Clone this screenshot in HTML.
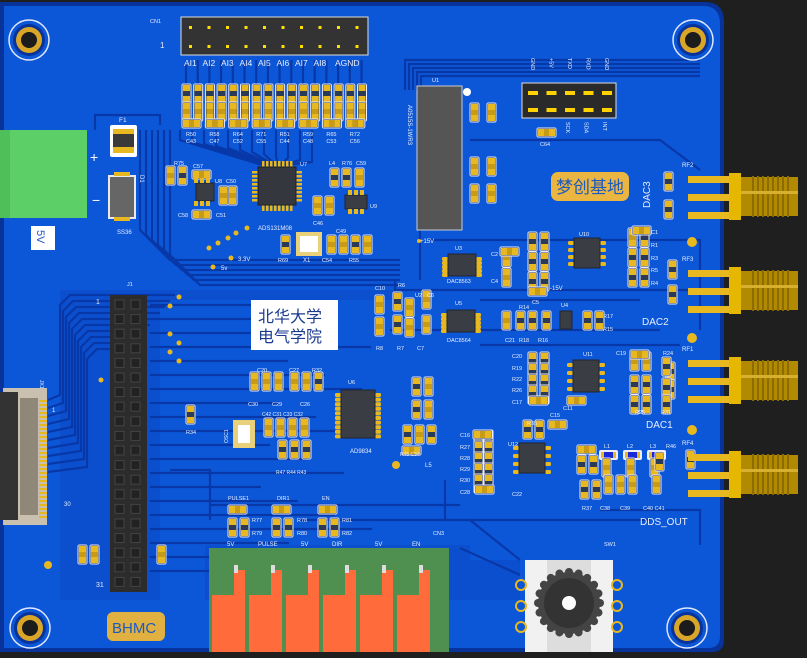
<!DOCTYPE html>
<html><head><meta charset="utf-8">
<style>
html,body{margin:0;padding:0;background:#1f1f1f;}
svg{display:block;}
text{font-family:"Liberation Sans",sans-serif;}
</style></head>
<body>
<svg id="s" width="807" height="658" viewBox="0 0 807 658" xmlns="http://www.w3.org/2000/svg">
<rect x="0" y="0" width="807" height="658" fill="#1f1f1f"/>
<path d="M0 2 H705 Q724 2 724 22 V640 Q724 652 712 652 H0 Z" fill="#07339a"/>
<path d="M4 6 H703 Q720 6 720 24 V636 Q720 648 708 648 H4 Z" fill="#0c57d8"/>
<path d="M60 290 H400 V300 H160 V600 H205 V545 H470 V560 H520 V600 H60 Z" fill="#0a47c4" opacity="0.45"/>
<g id="traces" stroke="#0838a8" stroke-width="2.2" fill="none"></g>
<g id="comp"></g>
<g id="big"></g>
<g id="lab"></g>
</svg>
<script>
const NS="http://www.w3.org/2000/svg";
const T=document.getElementById('traces'),C=document.getElementById('comp'),B=document.getElementById('big'),LB=document.getElementById('lab');
function el(p,tag,a,txt){const e=document.createElementNS(NS,tag);for(const k in a)e.setAttribute(k,a[k]);if(txt!==undefined)e.textContent=txt;p.appendChild(e);return e;}
function r(p,x,y,w,h,f,ex){const a={x,y,width:w,height:h,fill:f};Object.assign(a,ex||{});return el(p,'rect',a);}
function t(x,y,s,sz,col,ex){const a={x,y,'font-size':sz||6,fill:col||'#e8eefc'};Object.assign(a,ex||{});return el(LB,'text',a,s);}
function v(x,y,cap){r(C,x-0.5,y-0.5,10,20,'#eef',{rx:2});r(C,x+0.5,y+0.5,8,18,'#2b3a55');r(C,x+1,y+1,7,6,'#e8b820');r(C,x+1,y+12,7,6,'#e8b820');if(cap)r(C,x+1,y+7,7,5,'#c79a18');}
function h(x,y,cap){r(C,x-0.5,y-0.5,20,10,'#eef',{rx:2});r(C,x+0.5,y+0.5,18,8,'#2b3a55');r(C,x+1,y+1,6,7,'#e8b820');r(C,x+12,y+1,6,7,'#e8b820');if(cap)r(C,x+7,y+1,5,7,'#c79a18');}
function soic(x,y,w,hh,n,sp){for(let i=0;i<n;i++){r(C,x-6,y+3+i*sp,6,4,'#e8b820',{rx:1.5});r(C,x+w,y+3+i*sp,6,4,'#e8b820',{rx:1.5});}r(C,x,y,w,hh,'#3a3d44',{stroke:'#22252b'});}
function qfp(x,y,s,n){const sp=(s-6)/n;for(let i=0;i<n;i++){r(C,x+4+i*sp,y-6,2.5,6,'#e8b820');r(C,x+4+i*sp,y+s,2.5,6,'#e8b820');r(C,x-6,y+4+i*sp,6,2.5,'#e8b820');r(C,x+s,y+4+i*sp,6,2.5,'#e8b820');}r(C,x,y,s,s,'#34373d',{stroke:'#222'});}
function via(x,y,rr){el(C,'circle',{cx:x,cy:y,r:rr||2.5,fill:'#e8b820'});}
function hole(x,y){el(B,'circle',{cx:x,cy:y,r:20,fill:'none',stroke:'#dfe8ff','stroke-width':1.5});el(B,'circle',{cx:x,cy:y,r:16,fill:'#07339a'});el(B,'circle',{cx:x,cy:y,r:13,fill:'#d9a628'});el(B,'circle',{cx:x,cy:y,r:8,fill:'#1c1c1c'});}
function L(pts){el(T,'polyline',{points:pts});}
for(let i=0;i<16;i++){const x=186+i*11.7;L(`${x},60 ${x},85`);}
for(let i=0;i<12;i++){L(`${180+i*12},130 ${180+i*12},${140+i*2} ${262+i*2},165`);}
for(let i=0;i<10;i++){L(`${175-i*5},${295+i*6} ${70+i*3},${295+i*6} ${60+i*3},${305+i*6} ${60+i*3},${395+i*8} ${48},${400+i*8}`);}
for(let i=0;i<20;i++){L(`150,${305+i*14} ${260+((i*37)%120)},${305+i*14}`);}
for(let i=0;i<6;i++){L(`${140+i*6},130 ${140+i*6},${230+i*5} ${170+i*6},${260+i*5} ${400},${260+i*5}`);}
for(let i=0;i<5;i++){L(`${405+i*4},90 ${405+i*4},${60+i*4} ${700},${60+i*4}`);}
L("395,280 395,290 700,290");L("430,240 700,240 700,330");L("470,140 560,140 660,140 700,170");
L("390,330 560,330 660,330");L("300,520 470,520 520,560");L("460,548 520,575");L("600,510 700,510 700,545");
L("445,480 445,520 650,520");L("210,505 460,505");L("420,200 420,280");L("480,300 640,300");L("480,345 680,345");
L("170,470 210,470 210,520");L("95,130 95,115 160,115 160,125");

r(B,181,17,187,38,'#333','');r(B,181,17,187,38,'none',{stroke:'#ddd','stroke-width':1});
for(let i=0;i<10;i++){r(B,189+i*18.5,26,3,3,'#ffe100');r(B,189+i*18.5,45,3,3,'#ffe100');}
t(150,23,'CN1',5.5);t(160,48,'1',8);
const ai=['AI1','AI2','AI3','AI4','AI5','AI6','AI7','AI8'];
ai.forEach((s,i)=>t(184+i*18.5,66,s,8.5));t(335,66,'AGND',8.5);
for(let i=0;i<16;i++){const x=182+i*11.7;v(x,84,false);v(x,102,true);}
for(let i=0;i<8;i++){h(182+i*23.4,119,true);}
const rl=['R50','R58','R64','R71','R51','R59','R65','R72'],cl=['C43','C47','C52','C55','C44','C48','C53','C56'];
rl.forEach((s,i)=>{t(186+i*23.4,136,s,5.5);t(186+i*23.4,143,cl[i],5.5);});
hole(29,40);hole(693,40);hole(30,628);hole(687,628);
r(B,0,130,87,88,'#5ccf66');r(B,0,130,10,88,'#4fbf5a');
t(90,162,'+',14,'#fff');t(92,205,'−',14,'#fff');
t(119,122,'F1',6.5);r(B,110,125,27,32,'#fff',{rx:2});r(B,113,129,21,6,'#e8b820');r(B,113,147,21,6,'#e8b820');r(B,113,134,21,13,'#3a3a3a');
r(B,108,175,28,44,'#e9e9e9');r(B,110,177,24,40,'#666');r(B,114,172,16,4,'#e8b820');r(B,114,217,16,4,'#e8b820');
t(117,234,'SS36',6);t(140,175,'D1',6,null,{transform:'rotate(90 140 175)'});
r(B,31,226,24,24,'#fff');t(37,230,'5V',11,'#1a56c8',{transform:'rotate(90 37 230)'});
v(166,166,true);v(178,166,false);h(192,170,true);soic(196,183,18,18,0,0);
for(let i=0;i<3;i++){r(C,194+i*6,178,4,5,'#e8b820');r(C,194+i*6,201,4,5,'#e8b820');}
h(192,210,true);v(219,186,true);v(228,186,true);
t(174,165,'R75',5.5);t(193,168,'C57',5.5);t(215,183,'U8',5.5);t(226,183,'C50',5.5);t(216,217,'C51',5.5);t(178,217,'C58',5.5);
qfp(258,167,38,8);t(258,230,'ADS131M08',6);t(300,166,'U7',5.5);
v(330,168,false);v(342,168,false);v(355,168,true);t(329,165,'L4',5.5);t(342,165,'R76',5.5);t(356,165,'C59',5.5);
soic(345,195,22,14,0,0);for(let i=0;i<3;i++){r(C,348+i*6,190,4,5,'#e8b820');r(C,348+i*6,209,4,5,'#e8b820');}t(370,208,'U9',5.5);
v(313,196,true);v(325,196,true);t(313,225,'C46',5.5);
v(281,235,false);r(C,296,232,26,24,'#e8d17a');r(C,300,236,18,16,'#fff');t(303,262,'X1',6);t(278,262,'R69',5.5);
v(327,235,true);v(339,235,true);v(351,235,false);v(363,235,true);t(322,262,'C54',5.5);t(349,262,'R55',5.5);t(336,233,'C49',5.5);
via(247,228);via(236,233);via(228,238);via(218,243);via(209,248);via(231,258);via(213,267);
t(238,261,'3.3V',6);t(221,270,'5v',6);
r(B,417,86,45,144,'#555',{stroke:'#ccc'});el(B,'circle',{cx:467,cy:92,r:4,fill:'#fff'});t(432,82,'U1',5.5);
t(408,105,'A0515S-1WR3',6,null,{transform:'rotate(90 408 105)'});
v(470,103,true);v(487,103,true);v(470,157,true);v(487,157,true);v(470,184,true);v(487,184,true);
t(420,243,'+15V',6);via(419,241,2);
r(B,522,83,94,35,'#2a2a2a',{stroke:'#ddd'});
for(let i=0;i<5;i++){r(B,528+i*18.5,91,10,4,'#ffd200');r(B,528+i*18.5,108,10,4,'#ffd200');}
['GND','+5V','TXD','RXD','GND'].forEach((s,i)=>t(531+i*18.5,58,s,5.5,null,{transform:`rotate(90 ${531+i*18.5} 58)`}));
['SCK','SDA','INT'].forEach((s,i)=>t(566+i*18.5,122,s,5.5,null,{transform:`rotate(90 ${566+i*18.5} 122)`}));
h(537,128,true);t(540,146,'C64',5.5);
r(B,551,172,78,29,'#eab540',{rx:7});el(LB,'text',{x:556,y:193,'font-size':17,fill:'#1d5ac0','font-family':'"Liberation Sans","Noto Sans CJK SC",sans-serif'},'梦创基地');
function sma(y0,label){
 for(let k=0;k<3;k++)r(B,688,y0+3+k*18,52,7,'#e8b820');
 r(B,729,y0,12,47,'#e5b700');r(B,741,y0+4,57,39,'#b28a00');
 for(let k=0;k<8;k++)r(B,752+k*5,y0+3,2,41,'#8c6c00');
 r(B,741,y0+18,57,3,'#d8b030');
 t(682,y0-6,label,6);
}
sma(173,'RF2');sma(267,'RF3');sma(357,'RF1');sma(451,'RF4');
via(692,242,5);via(692,338,5);via(692,430,5);
t(639,197,'DAC3',10,null,{transform:'rotate(-90 650 197)'});t(642,325,'DAC2',10);t(646,428,'DAC1',10);t(640,525,'DDS_OUT',10);
v(664,172,false);v(664,200,false);v(668,260,false);v(668,285,false);v(666,362,false);v(666,380,false);v(686,450,false);
soic(574,238,26,30,4,7);t(579,236,'U10',5.5);
for(let i=0;i<4;i++){v(528+(i%2)*12,232+Math.floor(i/2)*20,false);}v(528,272,false);v(540,272,false);
h(528,287,true);t(532,304,'C5',5.5);
v(628,228,true);v(640,228,false);v(628,248,false);v(640,248,false);v(628,268,false);v(640,268,false);
h(632,226,true);t(651,234,'C1',5.5);t(651,247,'R1',5.5);t(651,260,'R3',5.5);t(651,272,'R5',5.5);t(651,285,'R4',5.5);
soic(448,254,28,22,5,4);t(455,250,'U3',5.5);t(447,283,'DAC8563',5.5);
v(502,248,true);v(502,268,true);h(500,247,true);t(491,256,'C2',5.5);t(491,283,'C4',5.5);t(550,290,'-15V',6);
soic(447,310,28,22,5,4);t(455,305,'U5',5.5);t(447,342,'DAC8564',5.5);
v(502,311,true);v(516,311,false);v(528,311,false);v(542,311,false);soic(560,311,12,18,0,0);t(561,307,'U4',5.5);
v(583,311,false);v(595,311,false);t(505,342,'C21',5.5);t(519,342,'R18',5.5);t(538,342,'R16',5.5);t(603,318,'R17',5.5);t(603,331,'R15',5.5);t(519,309,'R14',5.5);
v(375,295,true);v(375,317,true);v(393,292,false);v(393,315,false);v(405,298,true);v(405,318,true);v(422,290,true);v(422,315,true);
t(375,290,'C10',5.5);t(398,287,'R6',5.5);t(376,350,'R8',5.5);t(397,350,'R7',5.5);t(417,350,'C7',5.5);t(415,297,'U2',5.5);t(427,297,'C6',5.5);
soic(573,360,26,32,4,8);t(583,356,'U11',5.5);
for(let i=0;i<4;i++){v(528,352+i*11,false);v(540,352+i*11,false);}h(529,396,true);h(567,396,true);
t(512,358,'C20',5.5);t(512,370,'R19',5.5);t(512,381,'R22',5.5);t(512,392,'R26',5.5);t(512,404,'C17',5.5);t(563,410,'C11',5.5);
v(630,352,true);v(642,352,true);v(630,375,false);v(642,375,false);v(630,395,false);v(642,395,false);h(630,350,true);
v(662,357,false);v(662,378,false);v(662,395,false);t(616,355,'C19',5.5);t(663,355,'R24',5.5);t(635,414,'R25',5.5);t(661,414,'R31',5.5);
soic(519,443,26,30,4,8);t(508,446,'U12',5.5);
for(let i=0;i<5;i++){v(474,430+i*11,false);v(484,430+i*11,false);}h(473,430,true);h(475,485,true);
v(523,420,false);v(535,420,false);h(548,420,true);h(577,445,true);v(577,455,false);v(589,455,false);v(580,480,false);v(592,480,false);
t(527,425,'R35',5.5);t(550,417,'C15',5.5);t(460,437,'C16',5.5);t(460,449,'R27',5.5);t(460,460,'R28',5.5);t(460,471,'R29',5.5);t(460,482,'R30',5.5);t(460,494,'C28',5.5);t(512,496,'C22',5.5);
for(let i=0;i<3;i++){r(C,599+i*24,450,19,10,'#eef',{rx:2});r(C,601+i*24,452,15,6,'#e8b820');r(C,604+i*24,452,9,6,'#1a28d8');v(602+i*24,458,true);v(604+i*24,475,true);}
v(616,475,true);v(655,452,false);t(604,448,'L1',5.5);t(627,448,'L2',5.5);t(650,448,'L3',5.5);t(666,448,'R46',5.5);
t(582,510,'R37',5.5);t(600,510,'C38',5.5);t(620,510,'C39',5.5);t(643,510,'C40 C41',5.5);
r(B,110,295,37,297,'#2c2c2c');for(let i=0;i<20;i++){r(B,115,300+i*14.6,9,9,'#222',{stroke:'#444'});r(B,131,300+i*14.6,9,9,'#222',{stroke:'#444'});}
t(127,286,'J1',5.5);t(96,304,'1',7);t(96,587,'31',7);
for(let y of [297,306,334,343,352,361]){via(170+(y%2)*9,y,2.5);}via(101,380,2.5);
r(B,251,300,87,50,'#fff');el(LB,'text',{x:258,y:322,'font-size':16,fill:'#1a3a8f','font-family':'"Liberation Sans","Noto Sans CJK SC",sans-serif'},'北华大学');
el(LB,'text',{x:258,y:342,'font-size':16,fill:'#1a3a8f','font-family':'"Liberation Sans","Noto Sans CJK SC",sans-serif'},'电气学院');
r(B,3,388,44,137,'#c9c0b0');r(B,0,392,18,128,'#333');r(B,20,398,18,117,'#8f8878');
for(let i=0;i<30;i++)r(B,39,400+i*4,8,2,'#e8b820');t(52,412,'1',6);t(64,506,'30',6);t(40,380,'JX1',5,null,{transform:'rotate(90 40 380)'});
v(250,372,true);v(262,372,true);v(274,372,true);v(290,372,true);v(302,372,true);v(314,372,false);
t(257,372,'C20',5.5);t(289,372,'C27',5.5);t(312,372,'R32',5.5);t(248,406,'C30',5.5);t(272,406,'C29',5.5);t(300,406,'C26',5.5);
r(C,233,420,22,28,'#e8d17a');r(C,238,425,12,18,'#fff');t(225,440,'OSC1',5,null,{transform:'rotate(-90 228 440)'});
v(264,418,true);v(276,418,true);v(288,418,true);v(300,418,true);t(262,416,'C42 C31 C33 C32',5);
v(278,440,false);v(290,440,false);v(302,440,false);t(276,474,'R47 R44 R43',5);
v(186,405,false);t(186,434,'R34',5.5);
soic(341,390,34,48,10,4.6);t(348,384,'U6',5.5);t(350,453,'AD9834',6);
v(412,377,false);v(424,377,true);v(412,400,false);v(424,400,true);v(403,425,false);v(415,425,true);v(427,425,false);h(402,446,true);
t(425,467,'L5',6);t(400,456,'R45 C34',5);via(396,465,4);via(48,565,4);
v(78,545,true);v(90,545,true);v(157,545,true);
h(228,505,true);v(228,518,false);v(240,518,false);h(272,505,true);v(272,518,false);v(284,518,false);h(318,505,true);v(318,518,false);v(330,518,false);
t(228,500,'PULSE1',5.5);t(277,500,'DIR1',5.5);t(322,500,'EN',5.5);
t(252,522,'R77',5.5);t(252,535,'R79',5.5);t(297,522,'R78',5.5);t(297,535,'R80',5.5);t(342,522,'R81',5.5);t(342,535,'R82',5.5);
t(433,535,'CN3',5.5);t(604,546,'SW1',5.5);
r(B,209,548,240,104,'#4f8f4f');
for(let i=0;i<6;i++){const x=212+i*37;r(B,x,595,33,57,'#ff6b3b');r(B,x+22,570,11,26,'#ff6b3b');r(B,x+22,565,4,8,'#ddd');}
['5V','PULSE','5V','DIR','5V','EN'].forEach((s,i)=>t(227+i*37-(s.length>2?6:0),546,s,6));
r(B,525,560,88,92,'#f1f1f1');r(B,547,560,44,92,'#ddd');
for(let i=0;i<20;i++){const a=i*Math.PI/10;el(B,'circle',{cx:569+31*Math.cos(a),cy:603+31*Math.sin(a),r:4,fill:'#444'});}
el(B,'circle',{cx:569,cy:603,r:31,fill:'#444'});el(B,'circle',{cx:569,cy:603,r:25,fill:'#333'});el(B,'circle',{cx:569,cy:603,r:7,fill:'#fff'});
for(let i=0;i<3;i++){el(B,'circle',{cx:521,cy:585+i*21,r:5,fill:'none',stroke:'#e8b820','stroke-width':2});el(B,'circle',{cx:617,cy:585+i*21,r:5,fill:'none',stroke:'#e8b820','stroke-width':2});}
r(B,107,612,58,29,'#e0b040',{rx:6});el(LB,'text',{x:112,y:633,'font-size':15,fill:'#1d5ac0','font-family':'"Liberation Serif",serif'},'BHMC');
</script>
</body></html>
